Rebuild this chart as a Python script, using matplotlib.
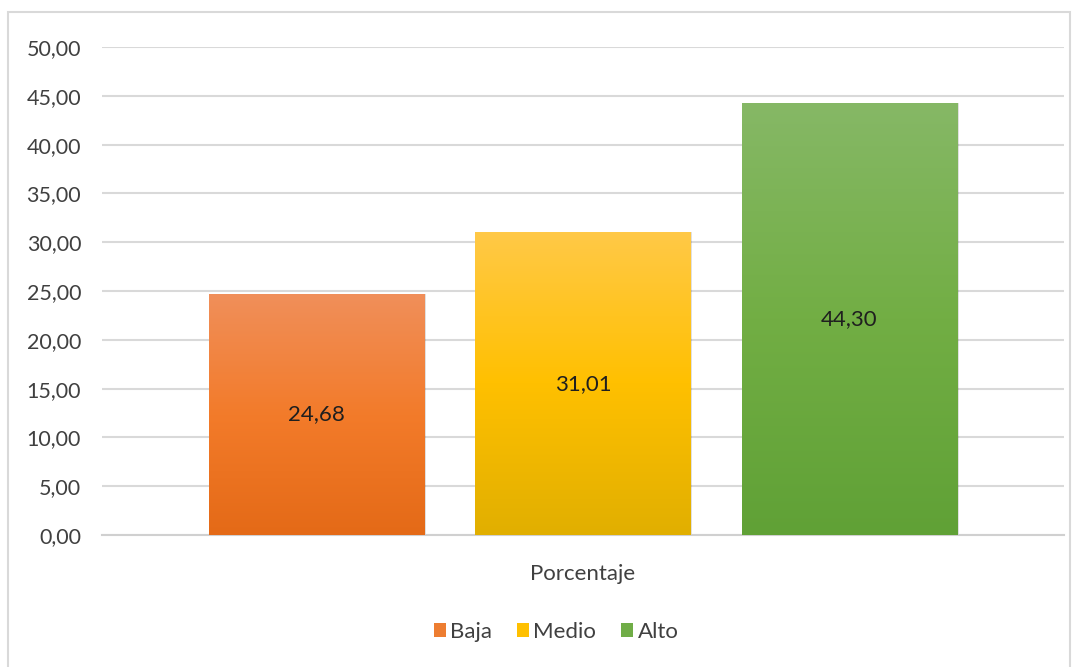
import numpy as np
import matplotlib
matplotlib.use("Agg")
import matplotlib.pyplot as plt
from matplotlib.colors import LinearSegmentedColormap
from matplotlib.patches import Rectangle

plt.rcParams["font.family"] = ["Lato", "DejaVu Sans"]

niveles = ["Baja", "Medio", "Alto"]
valores = [24.68, 31.01, 44.30]
categoria = "Porcentaje"
yticks = [0, 5, 10, 15, 20, 25, 30, 35, 40, 45, 50]

colores_arriba = ["#F08F5A", "#FFC947", "#86B866"]
colores_medio = ["#F37B2A", "#FFC000", "#72AE44"]
colores_abajo = ["#E46A17", "#E1AF00", "#60A136"]
colores_legenda = ["#ED7D31", "#FFC000", "#70AD47"]

fig = plt.figure(figsize=(10.78, 6.67), dpi=100)
fig.patches.append(Rectangle((8 / 1078, -0.01), 1062 / 1078, 1 - 12 / 667 + 0.01,
                             transform=fig.transFigure, fill=False,
                             edgecolor="#D9D9D9", linewidth=1.5))

ax = fig.add_axes([102 / 1078, 132 / 667, 962 / 1078, 488 / 667])

ancho = 0.2235
offsets = [-0.277, 0.0, 0.277]

barras = []
for i, (nivel, v) in enumerate(zip(niveles, valores)):
    b = ax.bar(offsets[i], v, width=ancho, color=colores_legenda[i],
               label=nivel, zorder=3)[0]
    barras.append(b)
    # gradient fill
    cmap = LinearSegmentedColormap.from_list(
        "g", [colores_abajo[i], colores_medio[i], colores_arriba[i]])
    grad = np.linspace(0, 1, 256).reshape(-1, 1)
    x0 = offsets[i] - ancho / 2
    im = ax.imshow(grad, cmap=cmap, origin="lower", aspect="auto",
                   extent=[x0, x0 + ancho, 0, v], zorder=4)
    im.set_clip_path(b)
    # subtle shadow
    ax.add_patch(Rectangle((x0 + 0.002, 0), ancho, v, facecolor="#000000",
                           alpha=0.12, zorder=2, linewidth=0))
    ax.text(offsets[i], v / 2, f"{v:.2f}".replace(".", ","), ha="center",
            va="center", fontsize=16, color="#1F1F1F", zorder=5)

ax.set_xlim(-0.5, 0.5)
ax.set_ylim(0, 50)
ax.set_yticks(yticks)
ax.set_yticklabels([f"{t:.2f}".replace(".", ",") for t in yticks],
                   fontsize=15.5, color="#404040")
ax.tick_params(axis="y", length=0, pad=15)
ax.set_xticks([0])
ax.set_xticklabels([categoria], fontsize=16, color="#404040")
ax.tick_params(axis="x", length=0, pad=21)
ax.grid(axis="y", color="#D9D9D9", linewidth=1.5, zorder=0)
ax.set_axisbelow(True)
for s in ["top", "right", "left"]:
    ax.spines[s].set_visible(False)
ax.spines["bottom"].set_color("#D0D0D0")
ax.spines["bottom"].set_linewidth(1.5)

leg = fig.legend(handles=barras, labels=niveles, loc="center",
                 bbox_to_anchor=(556 / 1078, 1 - 632 / 667), ncol=3, frameon=False,
                 fontsize=16, handlelength=0.55, handleheight=0.55,
                 handletextpad=0.2, columnspacing=1.1)
for t in leg.get_texts():
    t.set_color("#404040")

fig.savefig("out.png", dpi=100)
